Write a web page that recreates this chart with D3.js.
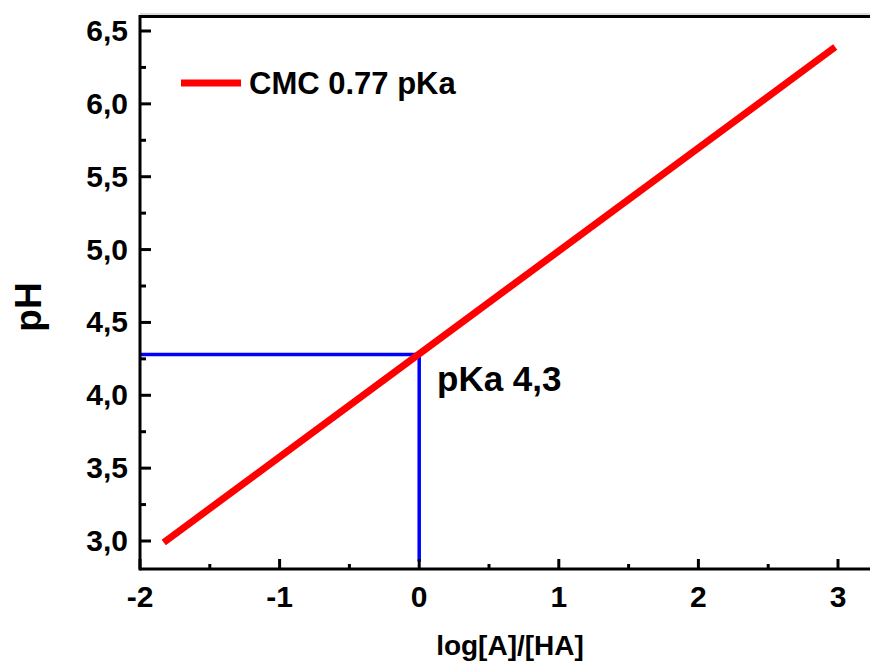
<!DOCTYPE html>
<html>
<head>
<meta charset="utf-8">
<script src="https://cdn.jsdelivr.net/npm/d3@7/dist/d3.min.js"></script>
<style>
  html, body { margin: 0; padding: 0; background: #fff; }
  text { font-family: "Liberation Sans", Arial, sans-serif; font-weight: bold; fill: #000; }
</style>
</head>
<body>
<svg id="chart" width="870" height="666"></svg>
<script>
// data
const lineX = [-1.83, 2.98];
const lineY = [2.99, 6.39];
const guideX = [-2, 0, 0];
const guideY = [4.28, 4.28, 2.86];
const xTicks = [-2, -1, 0, 1, 2, 3];
const xTickLabels = ["-2", "-1", "0", "1", "2", "3"];
const xMinor = [-1.5, -0.5, 0.5, 1.5, 2.5];
const yTicks = [3.0, 3.5, 4.0, 4.5, 5.0, 5.5, 6.0, 6.5];
const yTickLabels = ["3,0", "3,5", "4,0", "4,5", "5,0", "5,5", "6,0", "6,5"];
const yMinor = [3.25, 3.75, 4.25, 4.75, 5.25, 5.75, 6.25];
const seriesName = "CMC 0.77 pKa";
const pkaLabel = "pKa 4,3";

const frameL = 140, frameR = 870, frameT = 16.5, frameB = 569;

const svg = d3.select('#chart');

const x = d3.scaleLinear().domain([-2, 3]).range([140, 838]);
const y = d3.scaleLinear().domain([3.0, 6.5]).range([541, 31]);

// thin grey line above the top frame
svg.append('line')
    .attr('x1', frameL).attr('x2', frameR)
    .attr('y1', 14).attr('y2', 14)
    .attr('stroke', '#bbb').attr('stroke-width', 1);

// blue guide lines
const line = d3.line().x(d => x(d[0])).y(d => y(d[1]));
svg.append('path')
    .datum(guideX.map((v, i) => [v, guideY[i]]))
    .attr('d', line)
    .attr('fill', 'none')
    .attr('stroke', '#0000ff')
    .attr('stroke-width', 3.5);

// red line
svg.append('path')
    .datum(lineX.map((v, i) => [v, lineY[i]]))
    .attr('d', line)
    .attr('fill', 'none')
    .attr('stroke', '#ff0000')
    .attr('stroke-width', 7);

// frame
svg.append('line')
    .attr('x1', frameL).attr('x2', frameR).attr('y1', frameT).attr('y2', frameT)
    .attr('stroke', '#000').attr('stroke-width', 3);
svg.append('line')
    .attr('x1', frameL).attr('x2', frameR).attr('y1', frameB).attr('y2', frameB)
    .attr('stroke', '#000').attr('stroke-width', 3);
svg.append('line')
    .attr('x1', frameL).attr('x2', frameL).attr('y1', frameT - 1.5).attr('y2', frameB + 1.5)
    .attr('stroke', '#000').attr('stroke-width', 3);

// y ticks (inward)
svg.selectAll('.ymaj').data(yTicks).enter().append('line')
    .attr('x1', frameL).attr('x2', frameL + 11)
    .attr('y1', d => y(d)).attr('y2', d => y(d))
    .attr('stroke', '#000').attr('stroke-width', 3);
svg.selectAll('.ymin').data(yMinor).enter().append('line')
    .attr('x1', frameL).attr('x2', frameL + 6)
    .attr('y1', d => y(d)).attr('y2', d => y(d))
    .attr('stroke', '#000').attr('stroke-width', 3);
svg.selectAll('.ylab').data(yTicks).enter().append('text')
    .attr('x', 128)
    .attr('y', d => y(d) + 10)
    .attr('text-anchor', 'end')
    .style('font-size', '30px')
    .text((d, i) => yTickLabels[i]);

// x ticks (inward)
svg.selectAll('.xmaj').data(xTicks).enter().append('line')
    .attr('x1', d => x(d)).attr('x2', d => x(d))
    .attr('y1', frameB).attr('y2', frameB - 10)
    .attr('stroke', '#000').attr('stroke-width', 3);
svg.selectAll('.xmin').data(xMinor).enter().append('line')
    .attr('x1', d => x(d)).attr('x2', d => x(d))
    .attr('y1', frameB).attr('y2', frameB - 5)
    .attr('stroke', '#000').attr('stroke-width', 3);
svg.selectAll('.xlab').data(xTicks).enter().append('text')
    .attr('x', d => x(d))
    .attr('y', 607)
    .attr('text-anchor', 'middle')
    .style('font-size', '30px')
    .text((d, i) => xTickLabels[i]);

// axis titles
svg.append('text')
    .attr('x', 510).attr('y', 655)
    .attr('text-anchor', 'middle')
    .style('font-size', '28px')
    .text('log[A]/[HA]');
svg.append('text')
    .attr('transform', 'translate(41,307) rotate(-90)')
    .attr('text-anchor', 'middle')
    .style('font-size', '37px')
    .text('pH');

// pKa annotation
svg.append('text')
    .attr('x', 437).attr('y', 391)
    .style('font-size', '35px')
    .text(pkaLabel);

// legend
svg.append('line')
    .attr('x1', 181).attr('x2', 241).attr('y1', 83).attr('y2', 83)
    .attr('stroke', '#ff0000').attr('stroke-width', 7);
svg.append('text')
    .attr('x', 249).attr('y', 94)
    .style('font-size', '31px')
    .text(seriesName);
</script>
</body>
</html>
